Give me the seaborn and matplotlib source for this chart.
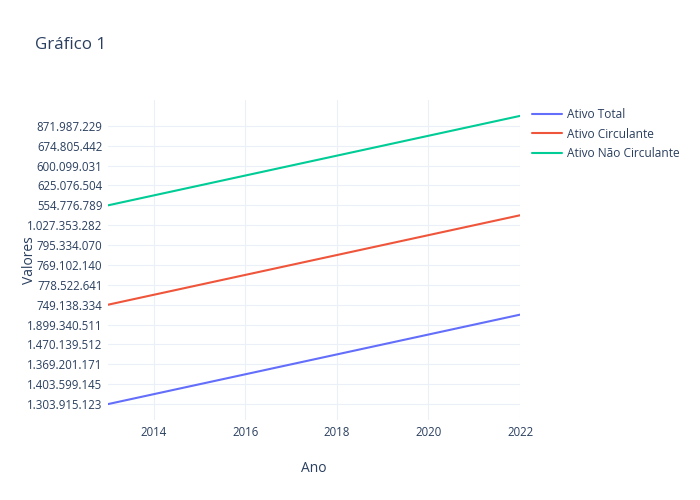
import pandas as pd
import matplotlib.pyplot as plt
import seaborn as sns

# Anos e valores (texto, como no original: eixo y categórico)
anos = [2013, 2014, 2015, 2016, 2017, 2018, 2019, 2020, 2021, 2022]
ativo_total = ["1.303.915.123", "1.349.723.382", "1.403.599.145", "1.393.387.409", "1.369.201.171",
               "1.426.778.074", "1.470.139.512", "1.650.705.341", "1.899.340.511", "2.019.924.277"]
ativo_circulante = ["749.138.334", "760.412.905", "778.522.641", "781.905.316", "769.102.140",
                    "784.660.218", "795.334.070", "912.448.731", "1.027.353.282", "1.104.290.875"]
ativo_nao_circulante = ["554.776.789", "589.310.477", "625.076.504", "611.482.093", "600.099.031",
                        "642.117.856", "674.805.442", "738.256.610", "871.987.229", "915.633.402"]
series = ["Ativo Total", "Ativo Circulante", "Ativo Não Circulante"]
cores = ["#636efa", "#EF553B", "#00cc96"]

df = pd.DataFrame({
    "Ano": anos * 3,
    "Valores": ativo_total + ativo_circulante + ativo_nao_circulante,
    "Serie": [s for s in series for _ in anos],
})
# categorias na ordem de aparição
categorias = list(dict.fromkeys(df["Valores"]))
df["pos"] = df["Valores"].map({c: i for i, c in enumerate(categorias)})

sns.set_style("white")
plt.rcParams["font.family"] = ["Open Sans", "DejaVu Sans"]
txt = "#2a3f5f"

fig = plt.figure(figsize=(7, 5), dpi=100)
ax = fig.add_axes([108 / 700, 0.16, 412 / 700, 0.64])
sns.lineplot(data=df, x="Ano", y="pos", hue="Serie", palette=cores,
             estimator=None, sort=False, linewidth=1.5, ax=ax, legend=True)

ax.set_xlim(2013, 2022)
ax.set_ylim(-1.6, 30.6)
ax.set_xticks([2014, 2016, 2018, 2020, 2022])
ax.set_yticks(range(0, len(categorias), 2))
ax.set_yticklabels(categorias[::2])
ax.grid(True, color="#EBF0F8", linewidth=0.8)
ax.set_axisbelow(True)
for sp in ax.spines.values():
    sp.set_visible(False)
ax.tick_params(length=0, labelsize=8.3, labelcolor=txt)
ax.tick_params(axis="y", pad=4)
ax.tick_params(axis="x", pad=4)

ax.set_xlabel("Ano", fontsize=10, color=txt)
ax.set_ylabel("Valores", fontsize=10, color=txt)
ax.xaxis.set_label_coords(0.5, -0.128)
ax.yaxis.set_label_coords(-0.172, 0.5)

fig.text(35 / 700, 1 - 45 / 500, "Gráfico 1", fontsize=12.2, color=txt, va="center")

handles, labels = ax.get_legend_handles_labels()
ax.get_legend().remove()
leg = fig.legend(handles, labels, loc="upper left", bbox_to_anchor=(532 / 700, 1 - 108 / 500),
                 frameon=False, fontsize=8.6, handlelength=2.5, handletextpad=0.45,
                 labelspacing=0.55, borderpad=0, borderaxespad=0)
for t in leg.get_texts():
    t.set_color(txt)

plt.savefig("out.png", dpi=100)
